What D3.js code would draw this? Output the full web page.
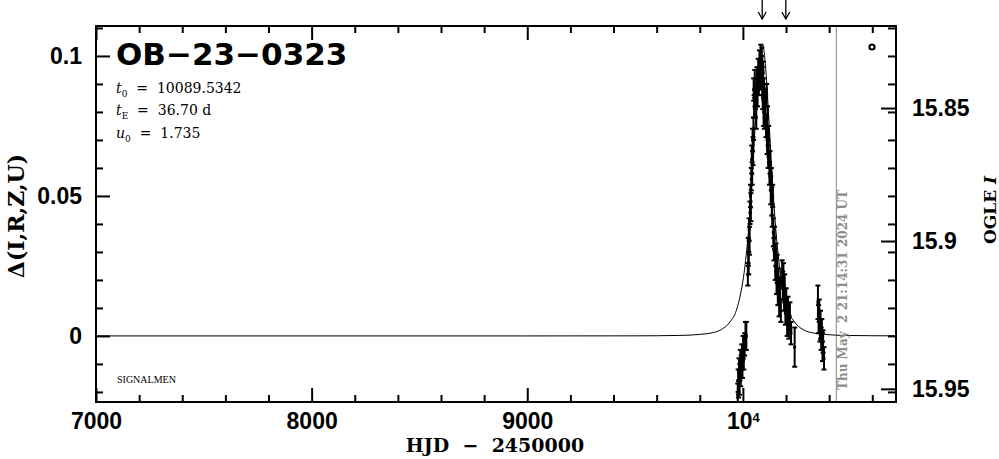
<!DOCTYPE html>
<html><head><meta charset="utf-8">
<script src="https://cdn.jsdelivr.net/npm/d3@7"></script>
<style>body{margin:0;background:#fff}svg{display:block}</style>
</head><body><svg id="c" width="999" height="459"></svg>
<script>
// ---------- data ----------
const xDomain = [7000, 10710];
const yDomain = [-0.0236, 0.1107];
const xMajorTicks = [7000, 8000, 9000, 10000];
const xTickLabels = ["7000", "8000", "9000", "10"];
const yMajorTicks = [0, 0.05, 0.1];
const yTickLabels = ["0", "0.05", "0.1"];
const magTickLabels = ["15.85", "15.9", "15.95"];
const magTickDelta = [0.0814, 0.0339, -0.0189];

const modelT = [7000, 9000, 9500, 9700, 9800, 9850, 9900, 9940, 9970, 9990, 10010, 10030, 10045, 10060, 10075, 10082, 10089.5, 10097, 10104, 10119, 10134, 10149, 10169, 10189, 10209, 10239, 10279, 10329, 10379, 10479, 10710];
const modelDelta = [0, 0.00000, 0.00003, 0.00017, 0.00054, 0.00101, 0.00229, 0.00497, 0.0092, 0.01536, 0.02523, 0.04155, 0.05903, 0.07937, 0.09724, 0.1023, 0.10425, 0.1023, 0.09724, 0.07937, 0.05903, 0.04155, 0.02523, 0.01536, 0.0092, 0.00497, 0.00229, 0.00101, 0.00054, 0.00017, 0.00003];

const obsT = [9976, 9978, 9980, 9982, 9984, 9986, 9988, 9990, 9992, 9995, 9998, 10001, 10004, 10008, 10012, 10016,
  10023, 10025, 10027, 10029, 10031, 10033, 10035, 10037,
  10039, 10041, 10043, 10045, 10047, 10049,
  10050, 10052, 10055, 10058,
  10062, 10065, 10068, 10071,
  10074, 10077, 10080, 10083, 10086, 10088, 10090, 10092, 10094, 10096, 10098, 10100,
  10104, 10107, 10110, 10112, 10114, 10117, 10120, 10123, 10126, 10129, 10132,
  10134, 10136, 10138,
  10141, 10144, 10147, 10150, 10153, 10156, 10159, 10162, 10165, 10168, 10172, 10176,
  10182, 10185, 10188, 10191, 10194, 10197, 10201, 10205, 10209, 10213, 10218, 10223,
  10240,
  10348, 10351, 10354, 10357, 10360, 10363, 10366, 10369, 10372, 10376];
const obsDelta = [-0.021, -0.016, -0.019, -0.012, -0.017, -0.013, -0.009, -0.015, -0.011, -0.007, -0.012, -0.004, -0.008, -0.003, 0.000, 0.000,
  0.022, 0.030, 0.026, 0.038, 0.034, 0.044, 0.050, 0.046,
  0.056, 0.063, 0.058, 0.070, 0.066, 0.074,
  0.088, 0.082, 0.090, 0.085,
  0.078, 0.092, 0.087, 0.095,
  0.090, 0.098, 0.093, 0.100, 0.096, 0.099, 0.091, 0.085, 0.094, 0.080, 0.088, 0.078,
  0.083, 0.075, 0.086, 0.070, 0.078, 0.064, 0.070, 0.058, 0.062, 0.052, 0.056,
  0.048, 0.043, 0.050,
  0.037, 0.031, 0.035, 0.025, 0.029, 0.019, 0.024, 0.015, 0.020, 0.012, 0.017, 0.009,
  0.023, 0.018, 0.022, 0.013, 0.017, 0.008, 0.013, 0.005, 0.010, 0.003, 0.007, 0.001,
  -0.004,
  0.012, 0.006, 0.009, 0.002, 0.004, -0.001, 0.002, -0.004, -0.002, -0.008];
const obsErr = [0.004, 0.004, 0.003, 0.004, 0.004, 0.003, 0.004, 0.003, 0.004, 0.004, 0.003, 0.004, 0.004, 0.004, 0.005, 0.005,
  0.004, 0.005, 0.004, 0.004, 0.005, 0.004, 0.004, 0.005,
  0.004, 0.005, 0.004, 0.004, 0.005, 0.004,
  0.004, 0.004, 0.005, 0.004,
  0.004, 0.004, 0.005, 0.004,
  0.004, 0.004, 0.005, 0.004, 0.004, 0.004, 0.005, 0.004, 0.004, 0.005, 0.004, 0.004,
  0.005, 0.004, 0.004, 0.005, 0.004, 0.004, 0.005, 0.004, 0.004, 0.005, 0.004,
  0.005, 0.004, 0.004,
  0.005, 0.004, 0.004, 0.005, 0.004, 0.004, 0.005, 0.004, 0.004, 0.005, 0.004, 0.004,
  0.004, 0.005, 0.004, 0.004, 0.005, 0.004, 0.004, 0.005, 0.004, 0.004, 0.005, 0.004,
  0.007,
  0.006, 0.005, 0.004, 0.004, 0.005, 0.004, 0.004, 0.005, 0.004, 0.004];

const arrowT = [10089.5, 10199];
const nowT = 10433.4;
const nowLabel = "Thu May  2 21:14:31 2024 UT";
const eventName = "OB\u221223\u22120323";
const paramT0 = "10089.5342";
const paramTE = "36.70 d";
const paramU0 = "1.735";

// ---------- drawing ----------
const svg = d3.select("#c");
const L = 96, R = 896, T = 26, B = 402;
const x = d3.scaleLinear().domain(xDomain).range([L, R]);
const y = d3.scaleLinear().domain(yDomain).range([B, T]);

const xMinor = d3.range(7200, 10710, 200).filter(v => v % 1000 !== 0);
const yMinor = d3.range(-2, 12).map(v => v / 100).filter(v => v > yDomain[0] && v < yDomain[1] && Math.round(v * 100) % 5 !== 0);

const tickFont = "'Liberation Sans', Arial, sans-serif";

function style(g) {
  g.select(".domain").remove();
  g.selectAll(".tick line").attr("stroke", "#000").attr("stroke-width", 2);
  g.selectAll(".tick text").attr("fill", "#000").attr("font-family", tickFont)
    .attr("font-weight", "bold").attr("font-size", 23);
}

// bottom
svg.append("g").attr("transform", `translate(0,${B})`)
  .call(d3.axisBottom(x).tickValues(xMajorTicks).tickSize(-14).tickPadding(11)
    .tickFormat((d, i) => xTickLabels[i])).call(style)
  .call(g => g.selectAll(".tick text").filter((d) => d === 10000)
    .append("tspan").attr("dy", "-0.55em").attr("font-size", 13).text("4"));
svg.append("g").attr("transform", `translate(0,${B})`)
  .call(d3.axisBottom(x).tickValues(xMinor).tickSize(-7).tickFormat("")).call(style);
// top
svg.append("g").attr("transform", `translate(0,${T})`)
  .call(d3.axisTop(x).tickValues(xMajorTicks).tickSize(-14).tickFormat("")).call(style);
svg.append("g").attr("transform", `translate(0,${T})`)
  .call(d3.axisTop(x).tickValues(xMinor).tickSize(-7).tickFormat("")).call(style);
// left
svg.append("g").attr("transform", `translate(${L},0)`)
  .call(d3.axisLeft(y).tickValues(yMajorTicks).tickSize(-14).tickPadding(14)
    .tickFormat((d, i) => yTickLabels[i])).call(style);
svg.append("g").attr("transform", `translate(${L},0)`)
  .call(d3.axisLeft(y).tickValues(yMinor).tickSize(-7).tickFormat("")).call(style);
// right
svg.append("g").attr("transform", `translate(${R},0)`)
  .call(d3.axisRight(y).tickValues(magTickDelta).tickSize(-15).tickPadding(16)
    .tickFormat((d, i) => magTickLabels[i])).call(style);
svg.append("g").attr("transform", `translate(${R},0)`)
  .call(d3.axisRight(y).tickValues(yMinor.concat([0.1, 0.05, 0])).tickSize(-8).tickFormat("")).call(style);

// clip
svg.append("clipPath").attr("id", "clip").append("rect")
  .attr("x", L).attr("y", T).attr("width", R - L).attr("height", B - T);
const plot = svg.append("g").attr("clip-path", "url(#clip)");

// now line
plot.append("line").attr("x1", x(nowT)).attr("x2", x(nowT)).attr("y1", T).attr("y2", B)
  .attr("stroke", "#999").attr("stroke-width", 1.2);

// model curve
const model = modelT.map((t, i) => [t, modelDelta[i]]);
plot.append("path").datum(model)
  .attr("d", d3.line().x(d => x(d[0])).y(d => y(d[1])).curve(d3.curveMonotoneX))
  .attr("fill", "none").attr("stroke", "#000").attr("stroke-width", 1);

// data with error bars
const obs = obsT.map((t, i) => ({ t, d: obsDelta[i], e: obsErr[i] }));
const og = plot.append("g").attr("stroke", "#000").attr("stroke-width", 2);
og.selectAll("line.eb").data(obs).join("line").attr("class", "eb")
  .attr("x1", d => x(d.t)).attr("x2", d => x(d.t))
  .attr("y1", d => y(d.d - d.e)).attr("y2", d => y(d.d + d.e));
og.selectAll("line.c1").data(obs).join("line").attr("class", "c1")
  .attr("x1", d => x(d.t) - 2.5).attr("x2", d => x(d.t) + 2.5)
  .attr("y1", d => y(d.d - d.e)).attr("y2", d => y(d.d - d.e));
og.selectAll("line.c2").data(obs).join("line").attr("class", "c2")
  .attr("x1", d => x(d.t) - 2.5).attr("x2", d => x(d.t) + 2.5)
  .attr("y1", d => y(d.d + d.e)).attr("y2", d => y(d.d + d.e));
plot.append("g").selectAll("rect").data(obs).join("rect")
  .attr("x", d => x(d.t) - 1.5).attr("y", d => y(d.d) - 1.5)
  .attr("width", 3).attr("height", 3).attr("fill", "#000");

// frame
svg.append("rect").attr("x", L).attr("y", T).attr("width", R - L).attr("height", B - T)
  .attr("fill", "none").attr("stroke", "#000").attr("stroke-width", 2);

// arrows on top
const ag = svg.append("g").attr("stroke", "#000").attr("stroke-width", 1.3).attr("fill", "none");
arrowT.forEach(t => {
  const ax = x(t);
  ag.append("line").attr("x1", ax).attr("x2", ax).attr("y1", 0).attr("y2", 19);
  ag.append("path").attr("d", `M${ax - 4},12 L${ax},19 L${ax + 4},12`);
});

// OGLE symbol
svg.append("circle").attr("cx", 872).attr("cy", 47).attr("r", 2.6)
  .attr("fill", "#fff").attr("stroke", "#000").attr("stroke-width", 2);

// title
svg.append("text").attr("x", 116).attr("y", 65)
  .attr("font-family", "'DejaVu Sans', sans-serif").attr("font-weight", "bold")
  .attr("font-size", 31).attr("fill", "#000").text(eventName);

// parameters
const pf = "'DejaVu Serif', serif";
function param(yb, sym, sub, val) {
  const t = svg.append("text").attr("x", 116).attr("y", yb).attr("font-family", pf)
    .attr("font-size", 14).attr("fill", "#000").style("white-space", "pre");
  t.append("tspan").attr("font-style", "italic").text(sym);
  t.append("tspan").attr("font-size", 9).attr("dy", 4).text(sub);
  t.append("tspan").attr("dy", -4).text("  =  " + val);
}
param(93, "t", "0", paramT0);
param(115, "t", "E", paramTE);
param(138, "u", "0", paramU0);

// SIGNALMEN
svg.append("text").attr("x", 117).attr("y", 383).attr("font-family", "'Liberation Serif', serif")
  .attr("font-size", 10).attr("fill", "#000").text("SIGNALMEN");

// axis titles
svg.append("text").attr("x", 495).attr("y", 452).attr("text-anchor", "middle")
  .attr("font-family", "'DejaVu Serif', serif").attr("font-weight", "bold").attr("font-size", 19)
  .style("white-space", "pre").attr("fill", "#000").text("HJD  \u2212  2450000");

svg.append("text").attr("transform", "translate(24,216) rotate(-90)").attr("text-anchor", "middle")
  .attr("font-family", "'DejaVu Serif', serif").attr("font-weight", "bold").attr("font-size", 22)
  .attr("fill", "#000").text("\u0394(I,R,Z,U)");

const ogle = svg.append("text").attr("transform", "translate(996,210) rotate(-90)").attr("text-anchor", "middle")
  .attr("font-family", "'DejaVu Serif', serif").attr("font-weight", "bold").attr("font-size", 17)
  .attr("fill", "#000").style("white-space", "pre");
ogle.append("tspan").text("OGLE ");
ogle.append("tspan").attr("font-style", "italic").text("I");

// date stamp
svg.append("text").attr("transform", `translate(${x(nowT) + 11},390) rotate(-90)`)
  .attr("font-family", "'DejaVu Serif', serif").attr("font-weight", "bold").attr("font-size", 12)
  .attr("fill", "#8c8c8c").style("white-space", "pre").attr("textLength", 200)
  .text(nowLabel);
</script></body></html>
